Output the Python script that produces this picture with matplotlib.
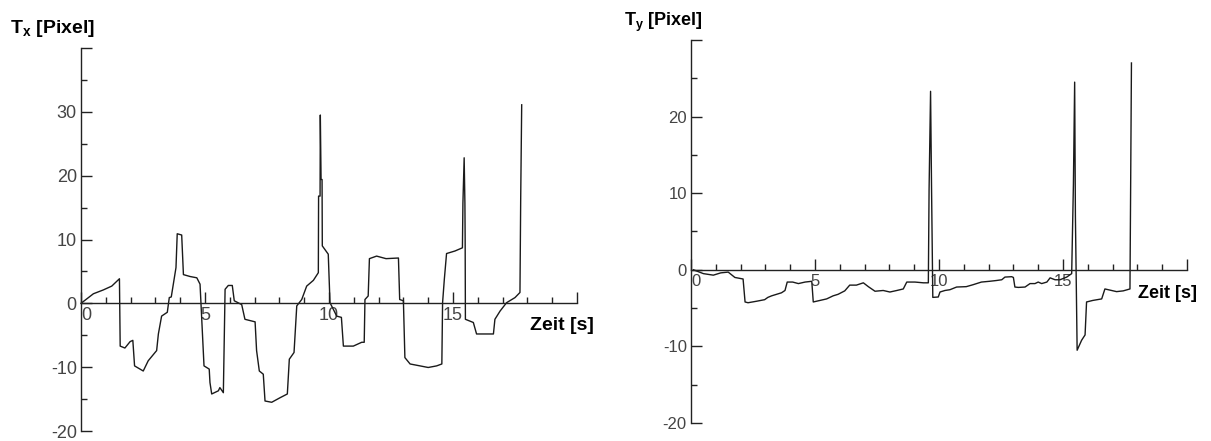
import matplotlib.pyplot as plt
from matplotlib.ticker import MultipleLocator, FixedLocator, FixedFormatter

plt.rcParams['font.family'] = ['Liberation Sans', 'DejaVu Sans']
plt.rcParams['mathtext.fontset'] = 'custom'
plt.rcParams['mathtext.bf'] = 'Liberation Sans:bold'
plt.rcParams['mathtext.rm'] = 'Liberation Sans'

# Tx over time (seconds, pixel)
tx_time = [0.0, 0.5, 0.9, 1.24, 1.55, 1.58, 1.77, 1.98, 2.09, 2.16,
           2.51, 2.71, 3.05, 3.12, 3.25, 3.48, 3.56, 3.64, 3.83, 3.88,
           4.06, 4.13, 4.4, 4.67, 4.8, 4.96, 5.17, 5.2, 5.27, 5.54,
           5.6, 5.74, 5.81, 5.94, 6.1, 6.18, 6.48, 6.61, 7.02, 7.08,
           7.19, 7.35, 7.42, 7.69, 8.02, 8.32, 8.4, 8.59, 8.7, 8.9,
           9.1, 9.37, 9.57, 9.58, 9.64, 9.65, 9.68, 9.72, 9.73, 9.97,
           10.04, 10.17, 10.31, 10.5, 10.58, 10.98, 11.32, 11.42, 11.45, 11.58,
           11.63, 11.92, 12.3, 12.8, 12.85, 13.0, 13.06, 13.27, 13.67, 14.0,
           14.34, 14.55, 14.58, 14.65, 14.74, 15.08, 15.38, 15.40, 15.45, 15.48,
           15.49, 15.5, 15.82, 15.95, 16.63, 16.69, 16.9, 17.16, 17.5, 17.7,
           17.73, 17.77]
tx_value = [0.0, 1.5, 2.1, 2.7, 3.85, -6.7, -7.0, -6.0, -5.8, -9.8,
            -10.6, -9.0, -7.4, -4.8, -2.0, -1.4, 0.9, 1.0, 5.6, 10.9,
            10.7, 4.5, 4.2, 4.0, 3.0, -9.8, -10.3, -12.4, -14.2, -13.7,
            -13.2, -14.0, 2.2, 2.8, 2.8, 0.4, -0.2, -2.5, -2.9, -7.4,
            -10.6, -11.1, -15.3, -15.5, -14.8, -14.2, -8.75, -7.7, -0.4, 0.6,
            2.7, 3.6, 4.8, 16.8, 16.8, 29.5, 19.4, 19.4, 9.0, 7.7,
            0.1, -0.9, -2.0, -2.2, -6.7, -6.7, -6.1, -6.1, 0.6, 1.15,
            7.0, 7.4, 7.0, 7.1, 0.6, 0.4, -8.5, -9.5, -9.8, -10.05,
            -9.8, -9.5, 0.1, 3.75, 7.8, 8.2, 8.7, 15.7, 22.8, 15.7,
            10.0, -2.5, -3.0, -4.8, -4.8, -2.5, -1.2, 0.1, 0.9, 1.7,
            16.5, 31.1]

# Ty over time
ty_time = [0.1, 0.5, 0.9, 1.2, 1.5, 1.77, 2.1, 2.18, 2.3, 2.65,
           2.97, 3.1, 3.25, 3.45, 3.65, 3.79, 3.88, 4.1, 4.33, 4.6,
           4.87, 4.93, 5.2, 5.47, 5.73, 5.93, 6.2, 6.4, 6.67, 6.95,
           7.15, 7.42, 7.75, 8.02, 8.3, 8.56, 8.7, 9.03, 9.37, 9.57,
           9.6, 9.66, 9.7, 9.75, 9.97, 10.04, 10.24, 10.44, 10.71, 11.1,
           11.37, 11.71, 12.04, 12.31, 12.53, 12.66, 12.93, 13.0, 13.06, 13.2,
           13.47, 13.67, 13.87, 14.0, 14.14, 14.35, 14.48, 14.68, 14.88, 15.15,
           15.35, 15.42, 15.47, 15.5, 15.57, 15.75, 15.89, 15.95, 16.2, 16.56,
           16.69, 16.96, 17.16, 17.43, 17.7, 17.73, 17.76]
ty_value = [0.0, -0.5, -0.7, -0.4, -0.3, -1.0, -1.2, -4.2, -4.3, -4.1,
            -3.9, -3.6, -3.4, -3.2, -3.0, -2.7, -1.6, -1.6, -1.8, -1.6,
            -1.5, -4.2, -4.0, -3.8, -3.4, -3.2, -2.75, -2.0, -2.0, -1.7,
            -2.2, -2.8, -2.7, -2.9, -2.7, -2.5, -1.6, -1.6, -1.7, -1.7,
            10.5, 23.3, 10.5, -3.6, -3.55, -2.9, -2.7, -2.6, -2.25, -2.2,
            -1.95, -1.6, -1.5, -1.4, -1.3, -0.95, -0.9, -1.0, -2.25, -2.3,
            -2.25, -1.8, -1.8, -1.6, -1.8, -1.6, -1.05, -1.3, -1.3, -0.95,
            -0.5, 11.2, 24.5, 7.05, -10.5, -9.2, -8.5, -4.2, -4.0, -3.8,
            -2.5, -2.7, -2.85, -2.75, -2.5, 12.0, 27.0]

x_labels = ['0', '5', '10', '15', '']
tx_ylim = (-20, 40)
ty_ylim = (-20, 30)

W, H = 1211, 441
fig = plt.figure(figsize=(W / 100, H / 100), dpi=100)
ax1 = fig.add_axes([81 / W, 1 - 431 / H, 496 / W, 383 / H])
ax2 = fig.add_axes([691 / W, 1 - 423 / H, 496 / W, 383 / H])


def style(ax, ylim, fs):
    ax.set_xlim(0, 20)
    ax.set_ylim(*ylim)
    ax.spines['top'].set_visible(False)
    ax.spines['right'].set_visible(False)
    ax.spines['bottom'].set_position(('data', 0))
    for s in ['left', 'bottom']:
        ax.spines[s].set_color('#222222')
        ax.spines[s].set_linewidth(1.0)
    ax.xaxis.set_major_locator(FixedLocator([0, 5, 10, 15, 20]))
    ax.xaxis.set_major_formatter(FixedFormatter(x_labels))
    ax.xaxis.set_minor_locator(MultipleLocator(1))
    yt = list(range(ylim[0], ylim[1] + 1, 10))
    ax.yaxis.set_major_locator(FixedLocator(yt))
    ax.yaxis.set_major_formatter(FixedFormatter([str(v) for v in yt[:-1]] + ['']))
    ax.yaxis.set_minor_locator(MultipleLocator(5))
    ax.tick_params(which='major', direction='in', length=8, width=1,
                   color='#222222', labelcolor='#444444', labelsize=fs)
    ax.tick_params(which='minor', direction='in', length=4, width=1, color='#222222')
    ax.tick_params(axis='x', which='major', pad=3)
    ax.tick_params(axis='y', which='major', pad=3)
    ax.patch.set_alpha(0)
    lbl = ax.get_xticklabels()[0]
    lbl.set_horizontalalignment('left')


style(ax1, tx_ylim, 13)
style(ax2, ty_ylim, 12)

ax1.plot(tx_time, tx_value, color='#1a1a1a', lw=1.0, clip_on=False)
ax2.plot(ty_time, ty_value, color='#1a1a1a', lw=1.0, clip_on=False)

fig.text(10 / W, 1 - 33 / H, r'T$_\mathbf{x}$ [Pixel]', fontsize=14, fontweight='bold')
fig.text(624 / W, 1 - 26 / H, r'T$_\mathbf{y}$ [Pixel]', fontsize=13, fontweight='bold')
fig.text(530 / W, 1 - 326 / H, 'Zeit [s]', fontsize=14, fontweight='bold', va='center')
fig.text(1138 / W, 1 - 294 / H, 'Zeit [s]', fontsize=13, fontweight='bold', va='center')

fig.savefig('out.png', dpi=100)
